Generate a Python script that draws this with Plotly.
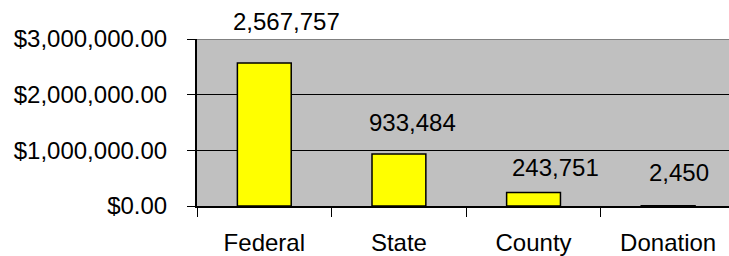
import plotly.graph_objects as go

categories = ["Federal", "State", "County", "Donation"]
values = [2567757, 933484, 243751, 2450]
value_labels = ["2,567,757", "933,484", "243,751", "2,450"]
y_ticks = [0, 1000000, 2000000, 3000000]

# label offsets (pixels) from each bar top, mimicking the original placement
label_dx = [22, 14, 22, 11]
label_dy = [42, 32, 25, 33]

FONT = "Liberation Sans, Arial, sans-serif"

fig = go.Figure()
fig.add_trace(go.Bar(
    x=categories, y=values,
    width=0.4,
    marker=dict(color="#FFFF00", line=dict(color="#000000", width=1.5)),
    hoverinfo="skip",
))

for c, v, t, dx, dy in zip(categories, values, value_labels, label_dx, label_dy):
    fig.add_annotation(x=c, y=v, text=t, showarrow=False,
                       xshift=dx, yshift=dy, yanchor="middle",
                       font=dict(family=FONT, size=24, color="#000000"))

fig.add_shape(type="line", xref="paper", yref="y", x0=0, x1=1,
              y0=y_ticks[-1], y1=y_ticks[-1],
              line=dict(color="#808080", width=2))

fig.update_layout(
    width=729, height=256,
    margin=dict(l=197, r=0, t=39, b=50, autoexpand=False),
    paper_bgcolor="#FFFFFF",
    plot_bgcolor="#C0C0C0",
    showlegend=False,
    font=dict(family=FONT, size=24, color="#000000"),
    xaxis=dict(
        range=[-0.5, 3.452],
        automargin=False,
        tickson="boundaries",
        ticks="outside", ticklen=9, tickcolor="#000000", tickwidth=1,
        showline=True, linecolor="#000000", linewidth=2,
        showgrid=False,
        ticklabelstandoff=14,
        tickfont=dict(family=FONT, size=24),
    ),
    yaxis=dict(
        range=[0, 3000000],
        automargin=False,
        tickvals=y_ticks,
        tickformat="$,.2f",
        ticks="outside", ticklen=8, tickcolor="#000000", tickwidth=1,
        showline=True, linecolor="#000000", linewidth=2,
        showgrid=True, gridcolor="#000000", gridwidth=1,
        zeroline=False,
        ticklabelstandoff=15,
        tickfont=dict(family=FONT, size=24),
    ),
)

fig.write_html("out.html", config={"displayModeBar": False},
               post_script="document.body.style.margin='0';")
